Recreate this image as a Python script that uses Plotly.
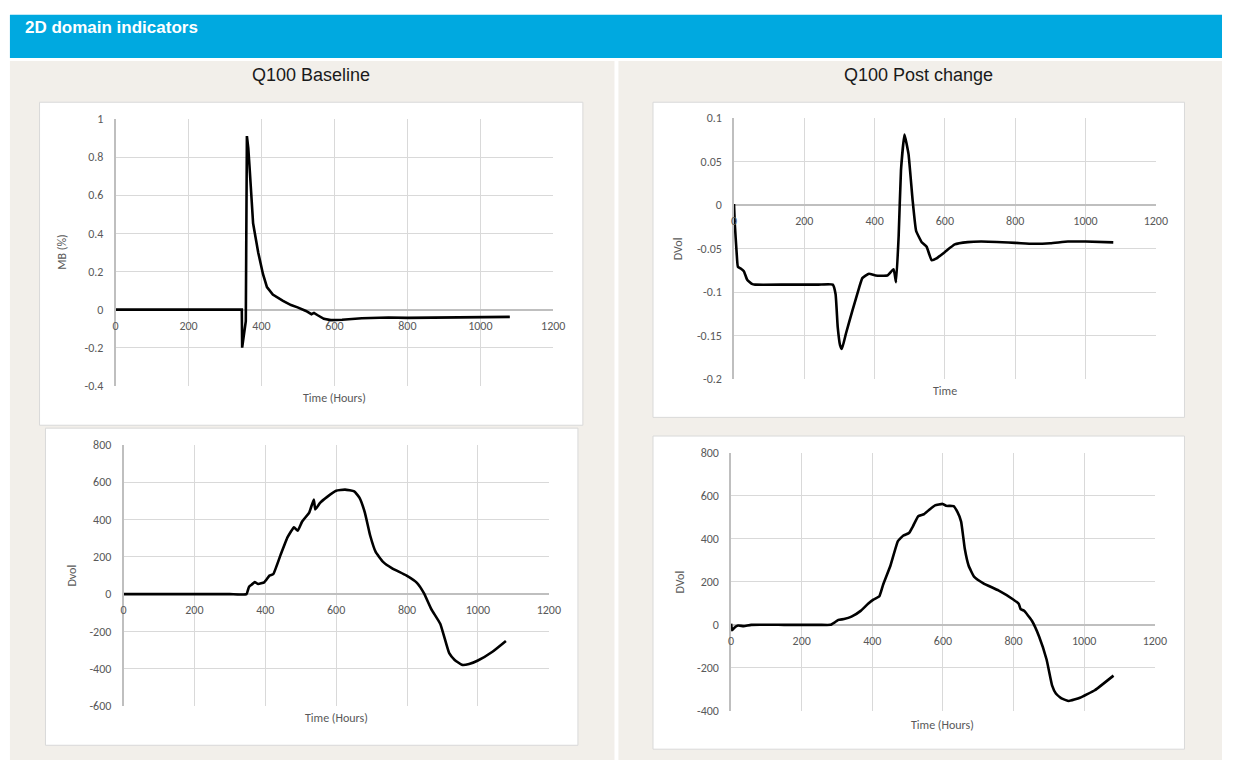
import plotly.graph_objects as go

W, H = 1234, 767

# ---------------- data ----------------
x_ticks = [0, 200, 400, 600, 800, 1000, 1200]
x_tick_labels = ["0", "200", "400", "600", "800", "1000", "1200"]

# Q100 Baseline - MB (%)
mb_time = [0, 346, 347, 357, 360, 363.8, 368, 373, 377, 391, 404, 415, 431, 459, 481, 499,
           522, 537, 544, 553, 571, 590, 621, 675, 748, 800, 900, 1000, 1081]
mb_value = [0, 0, -0.199, -0.06, 0.91, 0.847, 0.727, 0.573, 0.453, 0.30, 0.187, 0.118, 0.079,
            0.046, 0.024, 0.012, -0.007, -0.024, -0.017, -0.028, -0.048, -0.055, -0.053,
            -0.045, -0.041, -0.043, -0.042, -0.040, -0.038]
mb_ticks = [-0.4, -0.2, 0, 0.2, 0.4, 0.6, 0.8, 1]
mb_tick_labels = ["-0.4", "-0.2", "0", "0.2", "0.4", "0.6", "0.8", "1"]

# Q100 Post change - DVol (top)
pc_time = [0, 2, 7.5, 11, 19, 28, 37.5, 51, 60, 150, 240, 281, 289, 295, 301.7, 307, 318.5,
           337, 356, 365, 384, 403, 436, 454, 461, 468.5, 475, 485, 496.5, 508, 518, 534,
           548, 562, 576, 600, 628, 665, 703, 800, 850, 900, 950, 1000, 1079]
pc_value = [0.001, -0.02, -0.055, -0.071, -0.073, -0.076, -0.086, -0.0906, -0.0915, -0.0915,
            -0.0915, -0.0915, -0.1026, -0.140, -0.161, -0.1655, -0.1476, -0.121, -0.095,
            -0.084, -0.079, -0.081, -0.081, -0.0738, -0.0888, -0.035, 0.0397, 0.081, 0.0584,
            0.006, -0.0296, -0.0427, -0.048, -0.0633, -0.0614, -0.054, -0.0453, -0.0427,
            -0.042, -0.0435, -0.0446, -0.044, -0.042, -0.042, -0.043]
pc_ticks = [-0.2, -0.15, -0.1, -0.05, 0, 0.05, 0.1]
pc_tick_labels = ["-0.2", "-0.15", "-0.1", "-0.05", "0", "0.05", "0.1"]

# Q100 Baseline - Dvol (bottom)
bd_time = [0, 100, 200, 300, 347, 354, 362, 370, 380, 397, 412.5, 422.6, 443, 463, 481, 491.6,
           503.7, 524, 537, 541, 554.6, 574.7, 600, 625, 651, 666, 681, 696, 711.5, 731.7,
           757, 797.7, 828, 848, 868.5, 894, 919, 934.5, 954.6, 975, 1000, 1041, 1079]
bd_value = [0, 0, 0, 0, 0, 38.6, 51, 65, 54, 63, 100, 107, 209, 305, 358, 340, 388, 437, 507,
            454, 489, 521, 554, 560, 551, 516, 437, 314, 226, 174, 139, 100, 60, 3.5, -81,
            -160, -317, -353, -379, -375, -356, -309, -251]
bd_ticks = [-600, -400, -200, 0, 200, 400, 600, 800]
bd_tick_labels = ["-600", "-400", "-200", "0", "200", "400", "600", "800"]

# Q100 Post change - DVol (bottom)
pd_time = [0, 3, 9.5, 20, 36, 57, 150, 250, 281, 294, 304, 320, 341, 367, 388, 404, 420, 430.5,
           451.5, 472.5, 488, 504, 514.7, 530, 546, 562, 577.6, 599, 609, 630, 641, 651.5,
           662, 672.6, 688, 714.6, 757, 799, 814.6, 820, 830, 851.5, 872.5, 893.5, 909,
           919.8, 935.7, 956.6, 988, 1030, 1083]
pd_value = [5, -25, -13, -3, -6, 0, 0, 0, 0, 12, 23, 27, 38, 65, 98, 118, 133, 186, 276, 389,
            415, 427, 457, 505, 514, 536, 555, 562, 553, 552, 525, 480, 352, 276, 224, 193,
            160, 118, 98, 73, 65, 20, -55, -161, -281, -319, -342, -354, -339, -304, -236]
pd_ticks = [-400, -200, 0, 200, 400, 600, 800]
pd_tick_labels = ["-400", "-200", "0", "200", "400", "600", "800"]

header_text = "2D domain indicators"
col_titles = ["Q100 Baseline", "Q100 Post change"]

# ---------------- layout helpers (page pixel -> paper fraction) ----------------
def px(x):
    return x / W

def py(y):
    return 1 - y / H

BLUE = "#00A9E0"
BEIGE = "#F2EFEA"
GRID = "#D9D9D9"
AXIS = "#BFBFBF"
TXT = "#595959"
TICKFONT = dict(family="Carlito, Lato, sans-serif", size=12, color=TXT)

panels = [
    dict(t=mb_time, v=mb_value, ticks=mb_ticks, labels=mb_tick_labels, yr=[-0.4, 1],
         area=(114, 114, 557, 386), box=(37, 97, 587, 426), ytitle="MB (%)",
         xtitle="Time (Hours)", ytx=60, xty=398, shape="linear"),
    dict(t=pc_time, v=pc_value, ticks=pc_ticks, labels=pc_tick_labels, yr=[-0.2, 0.1],
         area=(740, 113, 1167, 379), box=(658, 97, 1196, 418), ytitle="DVol",
         xtitle="Time", ytx=683, xty=391, shape="spline"),
    dict(t=bd_time, v=bd_value, ticks=bd_ticks, labels=bd_tick_labels, yr=[-600, 800],
         area=(122, 446, 552.5, 712), box=(43, 429, 582, 752), ytitle="Dvol",
         xtitle="Time (Hours)", ytx=70, xty=724, shape="spline"),
    dict(t=pd_time, v=pd_value, ticks=pd_ticks, labels=pd_tick_labels, yr=[-400, 800],
         area=(737, 454, 1166, 717), box=(658, 437, 1196, 756), ytitle="DVol",
         xtitle="Time (Hours)", ytx=685, xty=731, shape="spline"),
]

fig = go.Figure()
shapes = [
    dict(type="rect", xref="paper", yref="paper", x0=px(7), x1=1, y0=py(52), y1=py(8),
         fillcolor=BLUE, line=dict(width=0), layer="below"),
    dict(type="rect", xref="paper", yref="paper", x0=px(7), x1=px(619), y0=0, y1=py(55),
         fillcolor=BEIGE, line=dict(width=0), layer="below"),
    dict(type="rect", xref="paper", yref="paper", x0=px(623), x1=1, y0=0, y1=py(55),
         fillcolor=BEIGE, line=dict(width=0), layer="below"),
]
annotations = [
    dict(text="<b>" + header_text + "</b>", xref="paper", yref="paper", x=px(20), y=py(21),
         xanchor="left", yanchor="middle", showarrow=False,
         font=dict(family="Liberation Sans, Arial, sans-serif", size=17, color="white")),
    dict(text=col_titles[0], xref="paper", yref="paper", x=px(312), y=py(69),
         xanchor="center", yanchor="middle", showarrow=False,
         font=dict(family="Liberation Sans, Arial, sans-serif", size=18, color="#1a1a1a")),
    dict(text=col_titles[1], xref="paper", yref="paper", x=px(927), y=py(69),
         xanchor="center", yanchor="middle", showarrow=False,
         font=dict(family="Liberation Sans, Arial, sans-serif", size=18, color="#1a1a1a")),
]

layout_axes = {}
for i, p in enumerate(panels, start=1):
    l, t, r, b = p["area"]
    bl, bt, br, bb = p["box"]
    shapes.append(dict(type="rect", xref="paper", yref="paper", x0=px(bl), x1=px(br),
                       y0=py(bb), y1=py(bt), fillcolor="white",
                       line=dict(color=GRID, width=1), layer="below"))
    ydom = [py(b), py(t)]
    ymin, ymax = p["yr"]
    zero_pos = ydom[0] + (0 - ymin) / (ymax - ymin) * (ydom[1] - ydom[0])
    xs = "" if i == 1 else str(i)
    line = dict(color="black", width=2.6, shape=p["shape"])
    if p["shape"] == "spline":
        line["smoothing"] = 0.35
    fig.add_trace(go.Scatter(x=p["t"], y=p["v"], mode="lines", line=line,
                             xaxis="x" + xs, yaxis="y" + xs, showlegend=False,
                             hoverinfo="skip"))
    layout_axes["xaxis" + xs] = dict(
        domain=[px(l), px(r)], range=[0, 1200], anchor="free", position=zero_pos,
        tickvals=x_ticks, ticktext=x_tick_labels, showgrid=True, gridcolor=GRID, gridwidth=1,
        zeroline=False, showline=False, ticks="outside", ticklen=5,
        tickcolor="rgba(0,0,0,0)", tickfont=TICKFONT, fixedrange=True)
    layout_axes["yaxis" + xs] = dict(
        domain=ydom, range=p["yr"], anchor="x" + xs, tickvals=p["ticks"],
        ticktext=p["labels"], showgrid=True, gridcolor=GRID, gridwidth=1,
        zeroline=True, zerolinecolor=AXIS, zerolinewidth=1.5,
        showline=True, linecolor=AXIS, linewidth=1.5, ticks="outside", ticklen=8,
        tickcolor="rgba(0,0,0,0)", tickfont=TICKFONT, fixedrange=True)
    annotations.append(dict(text=p["ytitle"], xref="paper", yref="paper", x=px(p["ytx"]),
                            y=py((t + b) / 2), xanchor="center", yanchor="middle",
                            textangle=-90, showarrow=False, font=TICKFONT))
    annotations.append(dict(text=p["xtitle"], xref="paper", yref="paper", x=px((l + r) / 2),
                            y=py(p["xty"]), xanchor="center", yanchor="middle",
                            showarrow=False, font=TICKFONT))

fig.update_layout(
    width=W, height=H, autosize=False, margin=dict(l=0, r=0, t=0, b=0, pad=0),
    paper_bgcolor="white", plot_bgcolor="white", shapes=shapes, annotations=annotations,
    **layout_axes)

fig.write_html("out.html", config={"displayModeBar": False})
